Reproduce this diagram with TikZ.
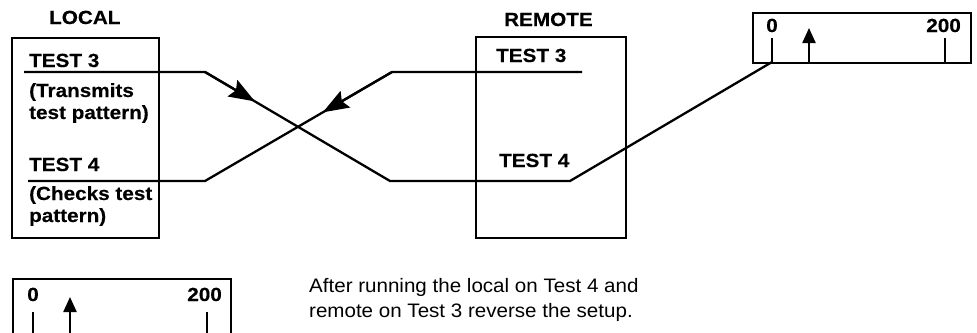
\documentclass[tikz,border=0pt]{standalone}
\usepackage{fontspec}
\setmainfont{Liberation Sans}
\newfontfamily\labf[FakeStretch=1.09,FakeBold=0.3]{Liberation Sans}
\newfontfamily\bodyf[FakeStretch=1.055]{Liberation Sans}
\usetikzlibrary{arrows.meta,calc}
\begin{document}
\begin{tikzpicture}[x=1pt,y=-1pt,line width=2.3pt,
  lbl/.style={font=\labf\bfseries\fontsize{19}{22}\selectfont,inner sep=0pt,anchor=base west},
  num/.style={font=\labf\bfseries\fontsize{19}{22}\selectfont,inner sep=0pt},
  body/.style={font=\bodyf\fontsize{19.5}{25}\selectfont,inner sep=0pt,anchor=base west},
  box/.style={draw,line width=2.3pt,inner sep=0pt,anchor=north west},
  needle/.style={-{Triangle[length=15pt,width=13pt]},line width=2.3pt},
  mid/.style={-{Stealth[length=26pt,width=19pt,inset=4pt]},line width=2.3pt},
  wire/.style={line width=2.3pt}]
\useasboundingbox (0,0) rectangle (977,332);

% boxes
\node[box,minimum width=147pt,minimum height=200pt] (local) at (11,37) {};
\node[box,minimum width=150pt,minimum height=201pt] (remote) at (475,36) {};
\node[box,minimum width=218pt,minimum height=50pt] (meterA) at (752,12) {};
\node[box,minimum width=218pt,minimum height=80pt] (meterB) at (12,278) {};

% headings
\node[lbl] (hl) at (48,24) {LOCAL};
\node[lbl] (hr) at (503,26) {REMOTE};

% local labels
\node[lbl] (l3) at (28,67) {TEST 3};
\node[lbl] (l3a) at (28,97) {(Transmits};
\node[lbl] (l3b) at (28,119) {test pattern)};
\node[lbl] (l4) at (28,171) {TEST 4};
\node[lbl] (l4a) at (28,200) {(Checks test};
\node[lbl] (l4b) at (28,222) {pattern)};

% remote labels
\node[lbl] (r3) at (495,62) {TEST 3};
\node[lbl] (r4) at (498,167) {TEST 4};

% meter A
\node[num,anchor=base] (a0) at (772,32) {0};
\node[num,anchor=base east] (a200) at (962,32) {200};
\coordinate (a0t) at (772,38);
\coordinate (a0b) at (772,62);
\draw[wire] (a0t) -- (a0b);
\draw[wire] (945,38) -- (945,62);
\coordinate (an1) at (809,62);
\coordinate (an2) at (809,28);
\draw[needle] (an1) -- (an2);

% meter B
\node[num,anchor=base] (b0) at (33,301) {0};
\node[num,anchor=base east] (b200) at (223,301) {200};
\draw[wire] (33,312) -- (33,340);
\draw[wire] (207,312) -- (207,340);
\coordinate (bn1) at (70,340);
\coordinate (bn2) at (70,297);
\draw[needle] (bn1) -- (bn2);

% connectors
\coordinate (p1) at (24,72);
\coordinate (p2) at (205,72);
\coordinate (p3) at (390,181);
\coordinate (p4) at (570,181);
\draw[wire,line join=miter] (p1) -- (p2) -- (p3) -- (p4) -- (a0b);
\draw[mid] (p2) -- ($(p2)!0.27!(p3)$);

\coordinate (q1) at (582,72);
\coordinate (q2) at (392,72);
\coordinate (q3) at (205,181);
\coordinate (q4) at (28,181);
\draw[wire,line join=miter] (q1) -- (q2) -- (q3) -- (q4);
\draw[mid] (q2) -- ($(q2)!0.37!(q3)$);

% note
\node[body] (n1) at (308,292) {After running the local on Test 4 and};
\node[body] (n2) at (308,317) {remote on Test 3 reverse the setup.};
\end{tikzpicture}
\end{document}
